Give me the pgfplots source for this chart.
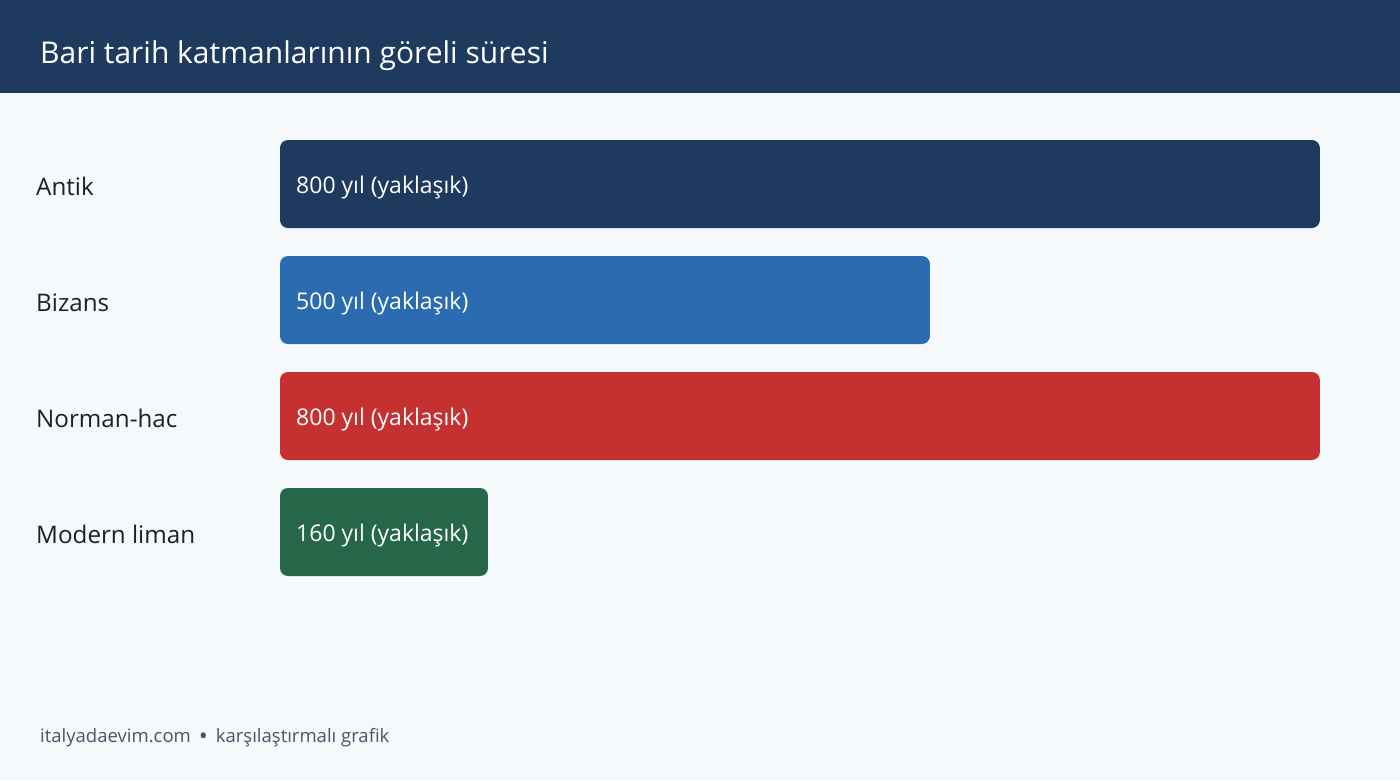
\documentclass[border=0pt]{standalone}
\usepackage{fontspec}
\setmainfont{Open Sans}
\usepackage{pgfplots}
\pgfplotsset{compat=1.18}
\definecolor{bgc}{HTML}{F5F9FC}
\definecolor{navy}{HTML}{1F3A5F}
\definecolor{cblue}{HTML}{2B6CB0}
\definecolor{cred}{HTML}{C53030}
\definecolor{cgreen}{HTML}{276749}
\definecolor{labc}{HTML}{1A202C}
\definecolor{footc}{HTML}{4A5568}
\tikzset{
  lab/.style={anchor=base west, inner sep=0, text=labc,
              font=\fontsize{24.2}{28}\selectfont, xshift=-244pt, yshift=-11pt},
  val/.style={anchor=base west, inner sep=0, text=white,
              font=\fontsize{23}{27}\selectfont, xshift=16pt, yshift=-9.3pt},
}

\begin{document}
\begin{tikzpicture}[x=1pt,y=1pt]
  % page and header band
  \fill[bgc] (0,0) rectangle (1400,-780);
  \fill[navy] (0,0) rectangle (1400,-93);
  \node[anchor=base west, inner sep=0, text=white,
        font=\fontsize{30}{36}\selectfont] at (40,-63)
        {Bari tarih katmanlarının göreli süresi};

  \begin{axis}[
      at={(280pt,-126pt)}, anchor=north west,
      width=1040pt, height=464pt, scale only axis,
      xmin=0, xmax=800, ymin=-0.5, ymax=3.5,
      y dir=reverse, hide axis, clip=false,
      xbar, bar width=88pt, bar shift=0pt,
      every axis plot/.append style={draw=none, rounded corners=8pt},
    ]
    \addplot[fill=navy]   coordinates {(800,0)};
    \addplot[fill=cblue]  coordinates {(500,1)};
    \addplot[fill=cred]   coordinates {(800,2)};
    \addplot[fill=cgreen] coordinates {(160,3)};

    \node[lab] at (axis cs:0,0) {Antik};
    \node[lab] at (axis cs:0,1) {Bizans};
    \node[lab] at (axis cs:0,2) {Norman-hac};
    \node[lab] at (axis cs:0,3) {Modern liman};

    \node[val] at (axis cs:0,0) {800 yıl (yaklaşık)};
    \node[val] at (axis cs:0,1) {500 yıl (yaklaşık)};
    \node[val] at (axis cs:0,2) {800 yıl (yaklaşık)};
    \node[val] at (axis cs:0,3) {160 yıl (yaklaşık)};
  \end{axis}

  \node[anchor=base west, inner sep=0, text=footc,
        font=\fontsize{18.5}{23}\selectfont] at (40,-742)
        {italyadaevim.com\hspace{8pt}\raisebox{-2.2pt}{\fontsize{24}{26}\selectfont\textbullet}\hspace{8pt}karşılaştırmalı grafik};
\end{tikzpicture}
\end{document}
